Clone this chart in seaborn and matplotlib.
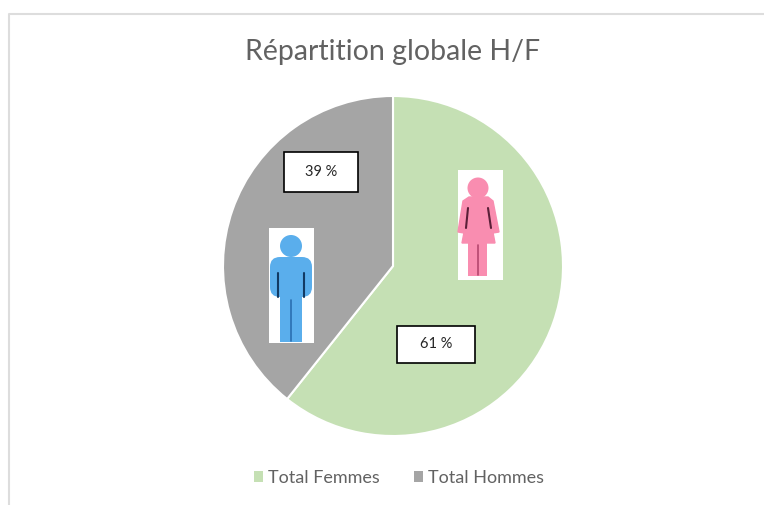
import matplotlib.pyplot as plt
from matplotlib.patches import Rectangle, Circle, Polygon, FancyBboxPatch
import seaborn as sns

labels = ['Total Femmes', 'Total Hommes']
values = [60.7, 39.3]
title = 'Répartition globale H/F'

colors = ['#C5E0B4', '#A5A5A5']
W, H = 764, 505

sns.set_theme(style='white')
plt.rcParams['font.family'] = ['Lato', 'DejaVu Sans']

fig = plt.figure(figsize=(W / 100, H / 100), dpi=100, facecolor='white')

# overlay in pixel coords for frame, boxes and the little people
over = fig.add_axes([0, 0, 1, 1], zorder=3)
over.set_xlim(0, W)
over.set_ylim(H, 0)
over.axis('off')
over.patch.set_alpha(0)

# pie axes centred on (393, 266) radius 170
cx, cy, r = 393, 266, 170
ax = fig.add_axes([(cx - r) / W, 1 - (cy + r) / H, 2 * r / W, 2 * r / H], zorder=2)
wedges, _ = ax.pie(values, colors=colors, startangle=90, counterclock=False, radius=1,
                   wedgeprops={'edgecolor': 'white', 'linewidth': 1.5})
ax.set_xlim(-1, 1)
ax.set_ylim(-1, 1)

# chart frame
over.plot([8.5, 8.5, W], [H, 14, 14], color='#DDDDDD', lw=1.5, clip_on=False)

over.text(393, 52, title, ha='center', va='center', fontsize=20.5, color='#626262')


def value_box(x0, y0, x1, y1, txt):
    over.add_patch(Rectangle((x0, y0), x1 - x0, y1 - y0, fc='white', ec='black', lw=1.2))
    over.text((x0 + x1) / 2, (y0 + y1) / 2, txt, ha='center', va='center',
              fontsize=10.5, color='#262626')


value_box(284, 152, 358, 192, f'{round(values[1])} %')
value_box(397, 326, 475, 363, f'{round(values[0])} %')

# man
blue = '#5AAEEC'
over.add_patch(Rectangle((269, 228), 45, 115, fc='white', ec='none'))
over.add_patch(Circle((291, 246), 11, fc=blue, ec='none'))
over.add_patch(FancyBboxPatch((273, 260), 36, 34, boxstyle='round,pad=3,rounding_size=10', fc=blue, ec='none'))
over.add_patch(Rectangle((280, 285), 22, 57, fc=blue, ec='none'))
over.plot([278, 278], [273, 297], color='#123A63', lw=1.5)
over.plot([304, 304], [273, 297], color='#123A63', lw=1.5)
over.plot([291, 291], [300, 341], color='#2A6FB0', lw=1.2)

# woman
pink = '#F98DB0'
over.add_patch(Rectangle((458, 170), 45, 110, fc='white', ec='none'))
over.add_patch(Circle((478, 188), 10.5, fc=pink, ec='none'))
over.add_patch(Polygon([(469, 197), (488, 197), (493, 201), (499, 232), (493, 233),
                        (491, 222), (495, 243), (462, 243), (466, 222), (464, 233),
                        (458, 232), (463, 201)], closed=True, fc=pink, ec=pink, lw=1))
over.add_patch(Rectangle((468, 240), 19, 36, fc=pink, ec='none'))
over.plot([468, 466], [208, 228], color='#5A2038', lw=1.5)
over.plot([488, 491], [208, 228], color='#5A2038', lw=1.5)
over.plot([478, 478], [245, 275], color='#B5476F', lw=1.2)

# legend
leg = ax.legend(wedges, labels, loc='center', ncol=2, frameon=False, fontsize=13,
                labelcolor='#626262', handlelength=0.5, handleheight=0.5, handletextpad=0.3,
                columnspacing=1.9, bbox_to_anchor=(399 / W, 1 - 478 / H),
                bbox_transform=fig.transFigure)
for h in leg.legend_handles:
    h.set_linewidth(0)

fig.savefig('out.png', dpi=100)
